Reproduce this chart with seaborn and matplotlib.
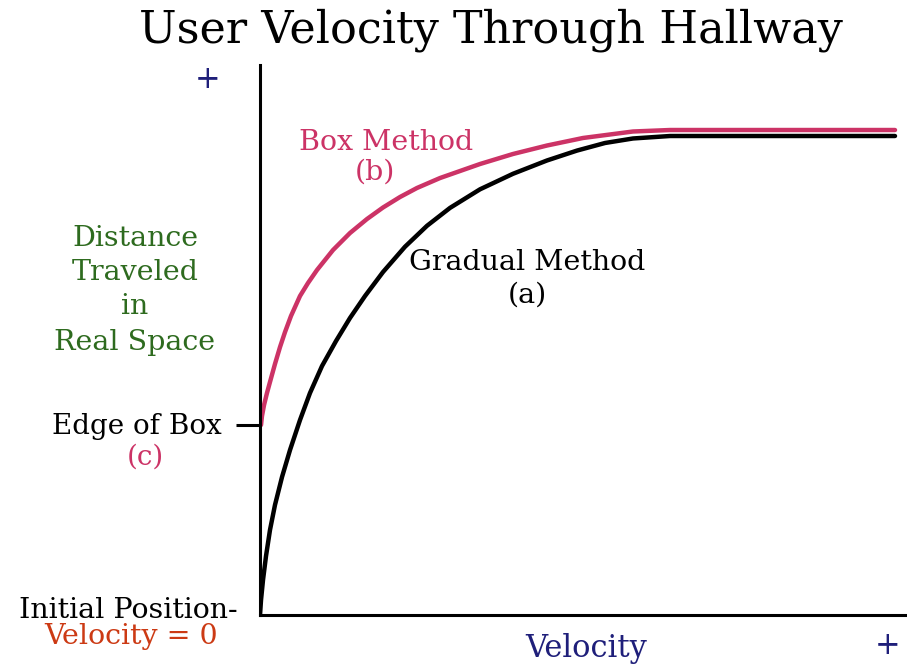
import matplotlib

matplotlib.use("Agg")
import matplotlib.pyplot as plt
import pandas as pd
import seaborn as sns

# velocity (arbitrary units, 0..100) vs distance (0..100)
gradual_velocity = [0, 0.16, 0.47, 0.94, 1.56, 2.34, 3.44, 4.69, 6.25, 7.81, 9.69, 11.88,
                    14.06, 16.41, 19.22, 22.66, 26.09, 29.69, 34.38, 39.53, 44.84, 49.53,
                    53.91, 58.28, 64.06, 99.22]
gradual_distance = [0, 2.73, 6.36, 10.73, 15.45, 20.0, 25.09, 30.0, 35.45, 40.36, 45.27, 49.82,
                    54.0, 58.0, 62.36, 66.96, 70.76, 74.02, 77.4, 80.22, 82.64, 84.44,
                    85.82, 86.64, 87.09, 87.09]

box_velocity = [0.16, 0.31, 0.63, 1.09, 1.56, 2.34, 3.13, 3.91, 4.84, 6.25, 7.5, 8.91,
                11.41, 14.06, 16.72, 19.22, 21.88, 24.53, 28.13, 34.38, 39.53, 44.84,
                50.47, 58.28, 64.06, 99.22]
box_distance = [34.55, 36.18, 38.18, 40.36, 42.36, 45.64, 48.73, 51.45, 54.36, 58.0, 60.36, 62.73,
                66.36, 69.45, 72.0, 74.09, 76.0, 77.64, 79.45, 82.0, 83.82, 85.36,
                86.73, 87.91, 88.18, 88.18]

edge_of_box = 34.55

PINK = "#cc3366"
GREEN = "#2e6b1f"
NAVY = "#1f1f7a"
RED = "#cc3a14"

sns.set_theme(style="white")
plt.rcParams["font.family"] = ["DejaVu Serif", "DejaVu Sans"]

W, H = 907, 664
fig = plt.figure(figsize=(W / 100, H / 100), dpi=100)
ax = fig.add_axes([260 / W, 49 / H, 647 / W, 550 / H])

gradual = pd.DataFrame({"velocity": gradual_velocity, "distance": gradual_distance})
box = pd.DataFrame({"velocity": box_velocity, "distance": box_distance})

sns.lineplot(data=gradual, x="velocity", y="distance", ax=ax, color="black",
             linewidth=3.2, sort=False, estimator=None)
sns.lineplot(data=box, x="velocity", y="distance", ax=ax, color=PINK,
             linewidth=3.2, sort=False, estimator=None)
for line in ax.lines:
    line.set_solid_joinstyle("round")
    line.set_solid_capstyle("round")

ax.set_xlim(0, 647 / 6.4)
ax.set_ylim(0, 100)
for side in ["top", "right"]:
    ax.spines[side].set_visible(False)
for side in ["left", "bottom"]:
    ax.spines[side].set_color("black")
    ax.spines[side].set_linewidth(2.2)
ax.set_xlabel("")
ax.set_ylabel("")
ax.set_xticks([])
ax.set_yticks([edge_of_box])
ax.set_yticklabels([""])
ax.tick_params(axis="y", length=17, width=2.2, color="black", direction="out", left=True)


def ftext(px, py, s, **kw):
    fig.text(px / W, 1 - py / H, s, ha="center", va="center", **kw)


ftext(491, 30, "User Velocity Through Hallway", fontsize=32, color="black")
ftext(208, 80, "+", fontsize=22, color=NAVY)
ftext(888, 645, "+", fontsize=22, color=NAVY)
ftext(586, 648, "Velocity", fontsize=22, color=NAVY)

ftext(386, 143, "Box Method", fontsize=20.5, color=PINK)
ftext(375, 172, "(b)", fontsize=20.5, color=PINK)
ftext(527, 263, "Gradual Method", fontsize=20.5, color="black")
ftext(527, 295, "(a)", fontsize=20.5, color="black")

for py, s in zip([238, 272, 307, 343], ["Distance", "Traveled", "in", "Real Space"]):
    ftext(135, py, s, fontsize=20.5, color=GREEN)

ftext(137, 427, "Edge of Box", fontsize=20, color="black")
ftext(145, 457, "(c)", fontsize=20, color=PINK)
ftext(128, 610, "Initial Position-", fontsize=20.5, color="black")
ftext(131, 637, "Velocity = 0", fontsize=20.5, color=RED)

fig.savefig("out.png", dpi=100)
plt.close(fig)
